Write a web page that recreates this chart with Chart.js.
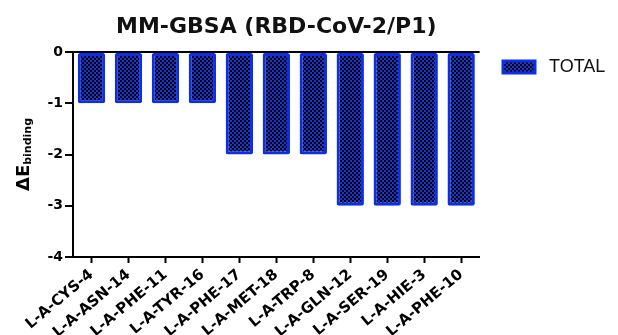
<!DOCTYPE html>
<html>
<head>
<meta charset="utf-8">
<script src="https://cdn.jsdelivr.net/npm/chart.js@4/dist/chart.umd.min.js"></script>
<style>
html,body{margin:0;padding:0;background:#fff;}
#wrap{width:618px;height:335px;position:relative;}
</style>
</head>
<body>
<div id="wrap"><canvas id="c" width="618" height="335"></canvas></div>
<script>
const categories = ['L-A-CYS-4','L-A-ASN-14','L-A-PHE-11','L-A-TYR-16','L-A-PHE-17','L-A-MET-18','L-A-TRP-8','L-A-GLN-12','L-A-SER-19','L-A-HIE-3','L-A-PHE-10'];
const totalValues = [-1,-1,-1,-1,-2,-2,-2,-3,-3,-3,-3];
const yTicks = [0,-1,-2,-3,-4];
const seriesName = 'TOTAL';
const chartTitle = 'MM-GBSA (RBD-CoV-2/P1)';

const BOLD = '"DejaVu Sans", "Liberation Sans", Arial, sans-serif';
const REG = '"Liberation Sans", Arial, sans-serif';

// checkered fill pattern
const pc = document.createElement('canvas');
pc.width = 4; pc.height = 4;
const pctx = pc.getContext('2d');
pctx.fillStyle = '#1636d8';
pctx.fillRect(0,0,4,4);
pctx.fillStyle = '#000000';
pctx.fillRect(0,0,2,2);
pctx.fillRect(2,2,2,2);
const pattern = pctx.createPattern(pc,'repeat');

const placeBlocks = {
  id:'placeBlocks',
  afterLayout(chart){
    const ca = chart.chartArea;
    const tb = chart.titleBlock;
    if (tb){ tb.left = ca.left; tb.right = ca.right; }
    const lg = chart.legend;
    if (lg){
      const w = lg.right - lg.left, h = lg.bottom - lg.top;
      lg.left = 493; lg.right = lg.left + w;
      lg.top = 48; lg.bottom = lg.top + h;
    }
  }
};

const yTitle = {
  id:'yTitle',
  afterDraw(chart){
    const ctx = chart.ctx;
    const ca = chart.chartArea;
    const cy = (ca.top + ca.bottom)/2;
    ctx.save();
    ctx.translate(29, cy);
    ctx.rotate(-Math.PI/2);
    ctx.fillStyle = '#000';
    ctx.textBaseline = 'alphabetic';
    const fMain = 'bold 18px ' + BOLD, fSub = 'bold 11px ' + BOLD;
    const main = '\u0394E', sub = 'binding';
    ctx.font = fMain; const wMain = ctx.measureText(main).width;
    ctx.font = fSub; const wSub = ctx.measureText(sub).width;
    const x = -(wMain + wSub)/2;
    ctx.font = fMain; ctx.fillText(main, x, 0);
    ctx.font = fSub; ctx.fillText(sub, x + wMain, 2);
    ctx.restore();
  }
};

new Chart(document.getElementById('c'), {
  type:'bar',
  data:{
    labels: categories,
    datasets:[{
      label: seriesName,
      data: totalValues,
      backgroundColor: pattern,
      borderColor: '#0b2fe6',
      borderWidth: 3,
      borderRadius: 2,
      borderSkipped: false,
      categoryPercentage: 1.0,
      barPercentage: 0.74
    }]
  },
  options:{
    responsive:false,
    animation:false,
    devicePixelRatio:1,
    layout:{padding:{left:0,right:16,top:0,bottom:0}},
    plugins:{
      title:{display:true,text:chartTitle,color:'#111',font:{family:BOLD,size:22,weight:'bold'},padding:{top:14,bottom:11.6}},
      legend:{
        display:true,position:'right',align:'start',
        labels:{
          font:{family:REG,size:18},color:'#111',boxWidth:32,boxHeight:12,padding:10,
          generateLabels(chart){
            const items = Chart.defaults.plugins.legend.labels.generateLabels(chart);
            items.forEach(it => { it.text = ' ' + it.text; it.lineWidth = 3; });
            return items;
          }
        }
      },
      tooltip:{enabled:false}
    },
    scales:{
      x:{
        offset:true,
        afterFit(scale){ scale.height = 78; },
        grid:{display:true,drawOnChartArea:false,offset:false,tickLength:6,tickColor:'#000',tickWidth:2,color:'#000'},
        border:{display:true,color:'#000',width:2},
        ticks:{color:'#000',font:{family:BOLD,size:15,weight:'bold'},maxRotation:40,minRotation:40,padding:3,autoSkip:false}
      },
      y:{
        min:-4,max:0,
        afterFit(scale){ scale.width = 73; },
        afterBuildTicks(scale){ scale.ticks = yTicks.map(v=>({value:v})); },
        grid:{display:true,drawOnChartArea:true,tickLength:8,tickColor:'#000',tickWidth:2,
          color:(c)=> (c.tick && c.tick.value===0) ? '#000' : 'rgba(0,0,0,0)', lineWidth:2},
        border:{display:true,color:'#000',width:2},
        ticks:{color:'#000',font:{family:BOLD,size:14,weight:'bold'},padding:2}
      }
    }
  },
  plugins:[placeBlocks,yTitle]
});
</script>
</body>
</html>
